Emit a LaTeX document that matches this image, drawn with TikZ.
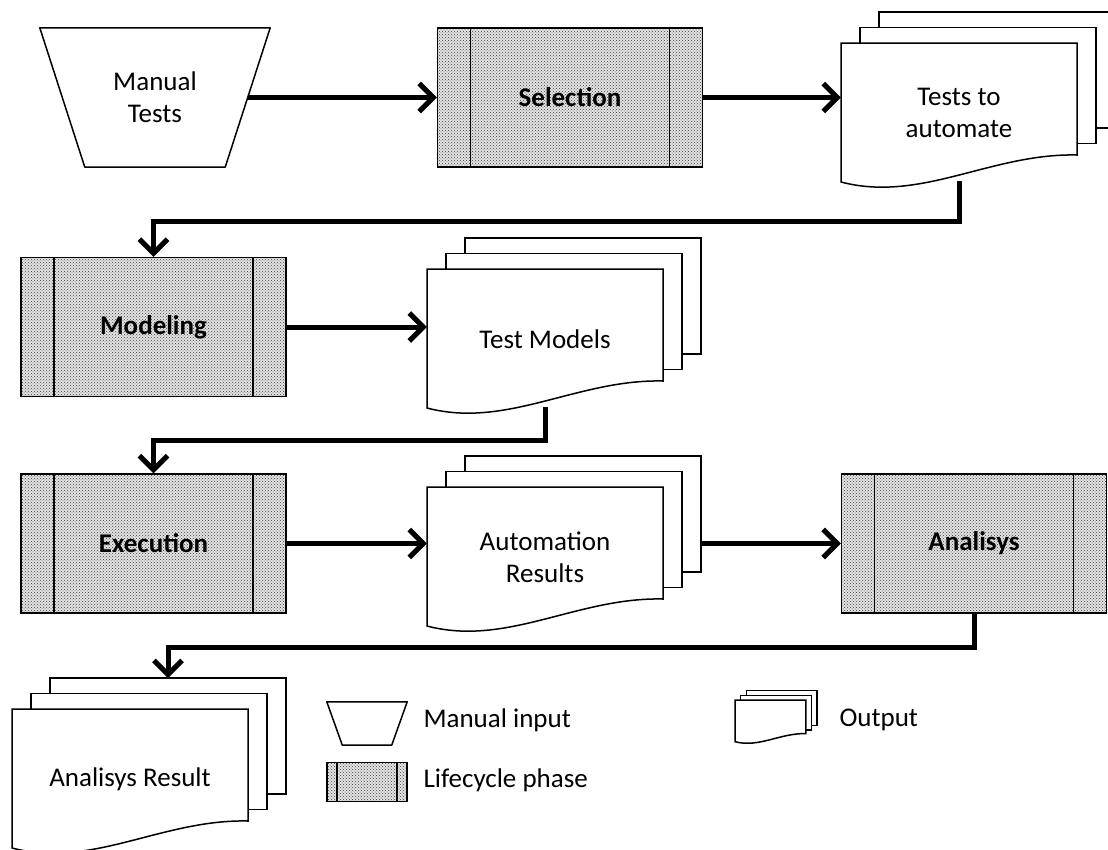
\documentclass[tikz,border=0pt]{standalone}
\usepackage{fontspec}
\setmainfont{Carlito}
\usetikzlibrary{arrows.meta,patterns,calc,backgrounds}

% stack of output pages: name, top left corner, text
\newcommand{\outdoc}[3]{%
  \foreach \k in {2,1}
    \draw[page] ($(#2)+(19*\k,-15.5*\k)$) rectangle ++(236,116);
  \draw[page] (#2) -- ++(236,0) -- ++(0,112)
    .. controls +(-86,-2) and +(80,21) .. ++(-236,27) -- cycle;
  \node[doc] (#1) at ($(#2)+(118,70)$) {#3};
  \coordinate (#1-back) at ($(#2)+(156,-31)$);
}

\begin{document}
\begin{tikzpicture}[x=1pt,y=-1pt,every node/.append style={font=\fontsize{27}{32}\selectfont}]
\tikzset{phase/.style = {draw, line width=1.5pt, minimum width=265pt, minimum height=139pt,
    preaction={fill=gray!22}, pattern=crosshatch dots, pattern color=black!75,
    font=\fontsize{27}{32}\selectfont\bfseries,
    path picture={\draw[line width=1.5pt]
      ([xshift=#1]path picture bounding box.north west) -- ([xshift=#1]path picture bounding box.south west)
      ([xshift=-#1]path picture bounding box.north east) -- ([xshift=-#1]path picture bounding box.south east);}},
  phase/.default=33pt}
\tikzset{manual/.style = {align=center, inner sep=0pt,
    append after command={\pgfextra{\draw[line width=1.5pt, line join=round]
      (\tikzlastnode.north west) -- (\tikzlastnode.north east)
      -- ([xshift=-#1]\tikzlastnode.south east) -- ([xshift=#1]\tikzlastnode.south west) -- cycle;}}},
  manual/.default=45pt}
\tikzset{page/.style = {draw, line width=1.5pt, fill=white}}
\tikzset{doc/.style = {minimum width=236pt, minimum height=136pt, inner sep=0pt, align=center}}
\tikzset{edge/.style = {-{Straight Barb[length=14pt,width=28pt]}, line width=5pt}}

\useasboundingbox (0,0) rectangle (1108,849);

%phases and outputs
\node[manual, minimum width=230pt, minimum height=139pt] (manual) at (155,97.5) {Manual\\Tests};
\node[phase] (selection) at (570,97.5) {Selection};
\outdoc{todo}{841,43}{Tests to\\automate}
\node[phase] (modeling) at (153.5,327) {Modeling};
\outdoc{models}{427,269}{Test Models}
\node[phase] (execution) at (153.5,543.5) {Execution};
\outdoc{results}{427,487}{Automation\\Results}
\node[phase] (analisys) at (974,543.5) {Analisys};
\outdoc{anres}{12,709}{Analisys Result}

%legend
\node[manual=15.5pt, minimum width=80pt, minimum height=43pt] (legmanual) at (367,723.5) {};
\node[anchor=west] (legmanualtext) at (420,720) {Manual input};
\node[phase=10pt, minimum width=80pt, minimum height=39pt] (legphase) at (367,782) {};
\node[anchor=west] (legphasetext) at (420,780) {Lifecycle phase};
\begin{scope}[shift={(735,700)}, scale=0.3]
\outdoc{legout}{0,0}{}
\end{scope}
\node[anchor=west] (legouttext) at (836,720) {Output};

%edges
\begin{scope}[on background layer]
\draw[edge] ([xshift=-22.5pt]manual.east) -- (selection.west);
\draw[edge] (selection.east) -- (selection.east -| todo.west);
\draw[edge] (todo) -- ++(0,108) -| (modeling.north);
\draw[edge] (modeling.east) -- (modeling.east -| models.west);
\draw[edge] (models) -- ++(0,101) -| (execution.north);
\draw[edge] (execution.east) -- (execution.east -| results.west);
\draw[edge] (results.east |- analisys.west) -- (analisys.west);
\draw[edge] (analisys.south) -- ++(0,34) -| (anres-back);
\end{scope}

\end{tikzpicture}
\end{document}
